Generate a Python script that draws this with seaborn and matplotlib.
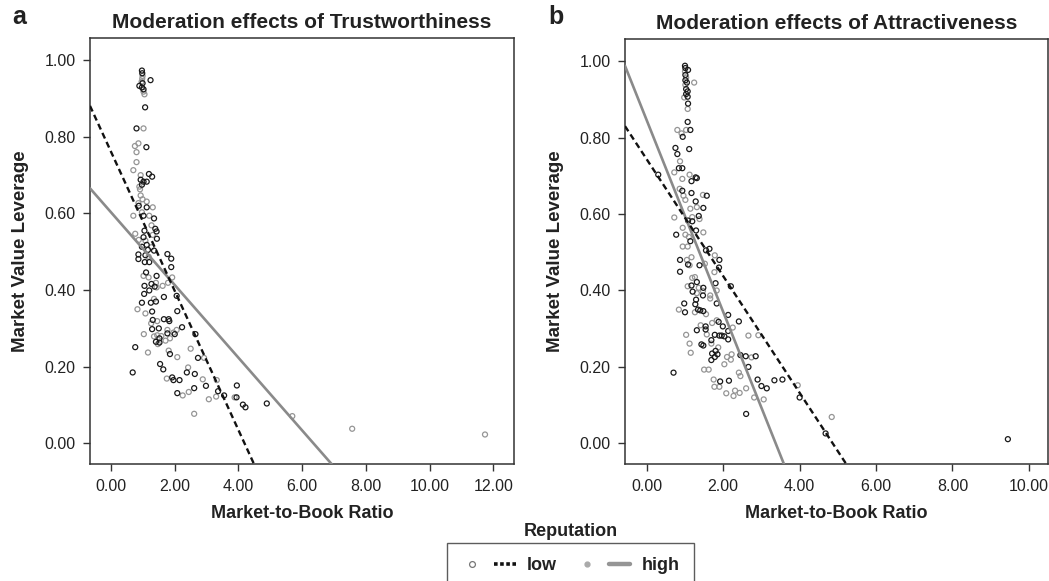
import numpy as np
import pandas as pd
import seaborn as sns
import matplotlib
matplotlib.use("Agg")
import matplotlib.pyplot as plt
from matplotlib.lines import Line2D
from matplotlib.legend_handler import HandlerTuple

# ---------------- data ----------------
# Panel a: Trustworthiness
a_low_x = [0.97,0.98,1.24,0.89,0.97,1.02,0.99,1.07,0.80,1.11,1.19,1.29,0.93,1.02,1.12,0.97,0.87,1.12,1.02,1.35,
           1.39,1.43,1.05,1.02,1.44,1.12,0.97,1.16,1.35,0.86,1.08,1.77,0.86,1.89,1.06,1.20,1.89,1.10,1.43,1.27,
           1.05,1.37,1.20,1.04,2.06,1.66,0.97,1.25,1.41,2.08,1.29,1.31,1.66,1.81,1.83,1.29,1.50,2.23,1.77,2.00,
           1.52,2.65,1.41,1.52,0.76,1.85,2.73,1.54,1.64,0.68,2.38,2.63,1.92,1.96,2.15,2.98,2.61,3.36,2.08,3.55,
           3.95,3.94,4.14,4.22,4.89]
a_low_y = [0.973,0.966,0.948,0.933,0.929,0.924,0.940,0.877,0.822,0.773,0.703,0.696,0.688,0.683,0.683,0.675,0.620,0.616,0.594,0.587,
           0.560,0.553,0.555,0.538,0.534,0.518,0.513,0.505,0.503,0.493,0.491,0.494,0.481,0.482,0.473,0.473,0.460,0.446,0.437,0.416,
           0.411,0.409,0.399,0.390,0.385,0.382,0.367,0.367,0.370,0.345,0.344,0.322,0.324,0.324,0.319,0.298,0.300,0.303,0.287,0.285,
           0.274,0.285,0.265,0.263,0.251,0.233,0.223,0.207,0.193,0.185,0.185,0.181,0.172,0.165,0.165,0.150,0.144,0.136,0.131,0.125,
           0.151,0.120,0.101,0.094,0.104]
a_high_x = [0.99,0.98,1.02,1.05,0.96,1.02,0.75,0.86,0.80,0.80,0.70,0.93,0.89,0.91,0.93,0.99,1.12,0.86,1.31,0.97,
            0.70,1.20,1.27,0.76,1.31,0.87,1.08,1.27,1.18,1.02,1.18,1.92,1.79,1.41,1.62,1.43,1.35,0.83,1.08,1.26,
            1.45,1.77,2.06,1.03,1.96,1.45,1.58,1.35,1.85,1.47,1.71,2.50,1.81,1.16,2.08,2.92,2.42,1.75,2.88,3.32,
            2.44,2.25,3.07,3.30,3.88,2.61,5.69,7.57,11.74]
a_high_y = [0.959,0.952,0.918,0.911,0.944,0.822,0.776,0.783,0.760,0.734,0.713,0.700,0.670,0.663,0.647,0.637,0.631,0.627,0.616,0.603,
            0.594,0.594,0.569,0.547,0.544,0.531,0.529,0.512,0.487,0.437,0.433,0.433,0.419,0.419,0.411,0.407,0.377,0.350,0.339,0.313,
            0.319,0.296,0.296,0.285,0.289,0.282,0.280,0.279,0.274,0.259,0.268,0.247,0.242,0.237,0.225,0.223,0.198,0.169,0.167,0.165,
            0.134,0.125,0.115,0.122,0.120,0.077,0.071,0.038,0.023]

# Panel b: Attractiveness
b_low_x = [1.00,1.01,1.08,1.01,1.01,1.05,1.03,1.07,1.03,1.07,1.08,1.07,0.94,1.14,0.75,1.11,0.80,0.84,0.93,0.30,
           1.28,1.31,1.17,0.93,1.17,1.57,1.28,1.48,1.36,1.08,1.19,1.29,0.77,1.14,1.64,1.55,0.87,1.90,1.08,1.38,
           1.89,0.87,1.31,1.80,1.17,1.48,2.20,1.20,1.47,1.29,0.98,1.27,1.83,1.00,1.34,1.40,1.48,2.13,2.41,1.54,
           1.88,1.99,1.31,1.54,2.13,1.78,1.90,1.96,2.03,2.13,1.69,1.43,1.48,1.80,1.71,1.85,2.45,2.59,2.85,1.69,
           1.78,2.66,0.70,1.92,2.15,2.90,3.34,3.55,3.00,3.14,4.00,2.60,4.68,9.45]
b_low_y = [0.988,0.982,0.977,0.964,0.950,0.944,0.927,0.921,0.914,0.907,0.889,0.841,0.802,0.820,0.773,0.770,0.757,0.720,0.720,0.703,
           0.696,0.694,0.686,0.661,0.655,0.648,0.633,0.616,0.595,0.583,0.581,0.557,0.546,0.529,0.509,0.505,0.480,0.480,0.468,0.466,
           0.460,0.449,0.422,0.419,0.413,0.407,0.411,0.397,0.387,0.376,0.366,0.364,0.366,0.343,0.350,0.348,0.346,0.336,0.319,0.306,
           0.318,0.306,0.296,0.298,0.294,0.284,0.282,0.282,0.280,0.272,0.270,0.259,0.256,0.242,0.235,0.233,0.231,0.228,0.228,0.218,
           0.226,0.200,0.185,0.162,0.164,0.167,0.165,0.167,0.150,0.144,0.120,0.077,0.026,0.011]
b_high_x = [1.00,1.03,1.24,1.01,0.98,1.07,0.80,0.91,1.03,0.87,0.72,1.12,0.93,0.86,0.96,1.47,1.01,1.31,1.14,0.72,
            1.19,1.38,0.94,1.48,1.01,1.10,0.94,1.07,1.78,1.05,1.17,1.12,1.52,1.77,1.19,1.26,1.07,1.36,1.83,1.31,
            1.47,1.66,1.66,0.84,1.26,1.55,1.41,1.71,1.83,2.25,1.57,2.66,2.92,1.03,1.12,1.69,1.87,1.15,2.22,2.10,
            2.20,2.74,2.03,1.50,1.62,2.41,2.45,1.75,1.77,1.90,2.60,2.31,2.43,3.95,2.08,2.27,2.81,3.06,4.84]
b_high_y = [0.973,0.957,0.944,0.938,0.905,0.875,0.820,0.811,0.820,0.738,0.709,0.703,0.692,0.666,0.648,0.650,0.637,0.618,0.614,0.591,
            0.592,0.587,0.564,0.552,0.546,0.540,0.515,0.515,0.492,0.480,0.487,0.466,0.470,0.448,0.433,0.435,0.411,0.407,0.400,0.393,
            0.399,0.387,0.379,0.350,0.343,0.338,0.309,0.315,0.322,0.303,0.285,0.282,0.283,0.284,0.261,0.261,0.251,0.237,0.233,0.226,
            0.219,0.225,0.207,0.193,0.193,0.185,0.176,0.167,0.148,0.148,0.144,0.138,0.132,0.152,0.131,0.124,0.120,0.115,0.069]

# fitted simple slopes: (intercept, slope)
a_fit_low = (0.761, -0.1816)
a_fit_high = (0.603, -0.0949)
b_fit_low = (0.743, -0.1527)
b_fit_high = (0.845, -0.2505)

titles = ["Moderation effects of Trustworthiness", "Moderation effects of Attractiveness"]
panel_letters = ["a", "b"]
y_ticks = [0.0, 0.2, 0.4, 0.6, 0.8, 1.0]
x_ticks_a = [0, 2, 4, 6, 8, 10, 12]
x_ticks_b = [0, 2, 4, 6, 8, 10]

# ---------------- style ----------------
sns.set_style("white")
plt.rcParams['font.family'] = ['Liberation Sans', 'DejaVu Sans']

LOW_COL = "#1a1a1a"
HIGH_COL = "#959595"
SPINE = "#333333"

fig = plt.figure(figsize=(10.49, 5.81), dpi=100)
ax_a = fig.add_axes([90/1049, 1-464/581, 424/1049, 426/581])
ax_b = fig.add_axes([625/1049, 1-464/581, 423/1049, 425/581])

panels = [
    (ax_a, a_low_x, a_low_y, a_high_x, a_high_y, a_fit_low, a_fit_high, (-0.66, 12.65), x_ticks_a),
    (ax_b, b_low_x, b_low_y, b_high_x, b_high_y, b_fit_low, b_fit_high, (-0.57, 10.5), x_ticks_b),
]

for i, (ax, lx, ly, hx, hy, flow, fhigh, xlim, xt) in enumerate(panels):
    df = pd.concat([
        pd.DataFrame({"mtb": hx, "lev": hy, "rep": "high"}),
        pd.DataFrame({"mtb": lx, "lev": ly, "rep": "low"}),
    ])
    for rep, col in [("high", HIGH_COL), ("low", LOW_COL)]:
        sub = df[df["rep"] == rep]
        sns.scatterplot(data=sub, x="mtb", y="lev", ax=ax, color=col,
                        facecolor="none", edgecolor=col, s=13, linewidth=0.9,
                        legend=False, zorder=2)
    ax.axline((0, fhigh[0]), slope=fhigh[1], color="#8a8a8a", lw=1.9, zorder=3)
    ax.axline((0, flow[0]), slope=flow[1], color="#111111", lw=1.7,
              linestyle=(0, (2.6, 1.6)), zorder=4)

    ax.set_xlim(*xlim)
    ax.set_ylim(-0.054, 1.058)
    ax.set_xticks(xt)
    ax.set_xticklabels([f"{v:.2f}" for v in xt])
    ax.set_yticks(y_ticks)
    ax.set_yticklabels([f"{v:.2f}" for v in y_ticks])
    ax.tick_params(axis="both", direction="out", length=5, width=1.0,
                   color=SPINE, labelsize=11.5, labelcolor="#222222", pad=5.5,
                   bottom=True, left=True)
    for sp in ax.spines.values():
        sp.set_color(SPINE)
        sp.set_linewidth(1.1)
    ax.set_xlabel("Market-to-Book Ratio", fontsize=13, fontweight="bold",
                  color="#222222", labelpad=8)
    ax.set_ylabel("Market Value Leverage", fontsize=13.5, fontweight="bold",
                  color="#222222", labelpad=11)
    ax.set_title(titles[i], fontsize=15, fontweight="bold", color="#222222", pad=7)

fig.text(12/1049, 1-5/581, "a", fontsize=18, fontweight="bold", va="top", ha="left", color="#222222")
fig.text(548/1049, 1-5/581, "b", fontsize=18, fontweight="bold", va="top", ha="left", color="#222222")

# legend
fig.text(571/1049, 1-531/581, "Reputation", fontsize=13, fontweight="bold",
         ha="center", va="center", color="#222222")
h_low = (Line2D([], [], linestyle="none", marker="o", markersize=4.2,
                markerfacecolor="none", markeredgecolor="#777777", markeredgewidth=0.9),
         Line2D([], [], color="#111111", lw=2.6, linestyle=(0, (1.0, 0.7))))
h_high = (Line2D([], [], linestyle="none", marker="o", markersize=3.5,
                 markerfacecolor="#aaaaaa", markeredgecolor="#aaaaaa"),
          Line2D([], [], color="#959595", lw=3.2))
leg = fig.legend([h_low, h_high], ["low", "high"], ncol=2,
                 handler_map={tuple: HandlerTuple(ndivide=None, pad=0.6)},
                 loc="upper left", bbox_to_anchor=(447/1049, 1-543/581),
                 borderaxespad=0.0,
                 frameon=True, fancybox=False, shadow=False,
                 handlelength=3.0, handletextpad=0.6, columnspacing=1.1,
                 borderpad=0.8, prop={"size": 13, "weight": "bold"})
leg.get_frame().set_edgecolor("#333333")
leg.get_frame().set_linewidth(1.0)
for t in leg.get_texts():
    t.set_color("#222222")

fig.savefig("out.png", dpi=100)
